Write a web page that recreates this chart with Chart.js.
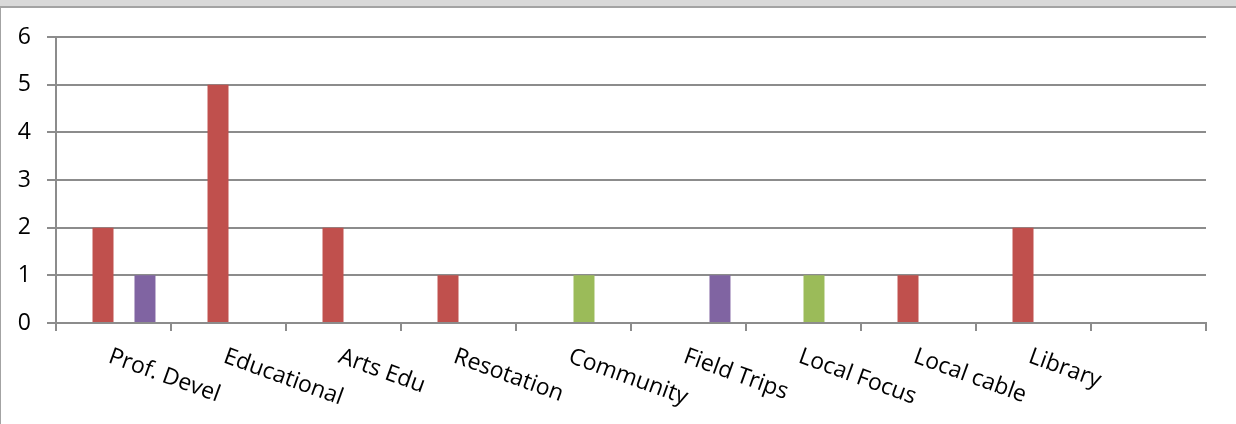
<!DOCTYPE html>
<html>
<head>
<meta charset="utf-8">
<script src="https://cdn.jsdelivr.net/npm/chart.js@4"></script>
<style>
  html, body { margin:0; padding:0; background:#fff; }
  #frame { position:absolute; left:0; top:0; width:1236px; height:424px; overflow:hidden; }
  #band { position:absolute; left:0; top:0; width:1236px; height:6px; background:#d9d9d9; border-bottom:2px solid #a3a3a3; }
  #edge { position:absolute; left:0; top:6px; width:1px; height:418px; background:#a3a3a3; }
  canvas { position:absolute; left:0; top:0; }
</style>
</head>
<body>
<div id="frame">
  <div id="band"></div>
  <div id="edge"></div>
  <canvas id="chart" width="1236" height="424"></canvas>
</div>
<script>
const categories = ['Prof. Devel','Educational','Arts Edu','Resotation','Community','Field Trips','Local Focus','Local cable','Library',''];
const blueVals   = [0,0,0,0,0,0,0,0,0,0];
const redVals    = [2,5,2,1,0,0,0,1,2,0];
const greenVals  = [0,0,0,0,1,0,1,0,0,0];
const purpleVals = [1,0,0,0,0,1,0,0,0,0];
const yTicks = [0,1,2,3,4,5,6];

const FONT = "'Open Sans', 'Liberation Sans', sans-serif";

// x labels are rotated clockwise in the original, Chart.js only does the other way
const slantLabels = {
  id: 'slantLabels',
  afterDraw(chart){
    const xs = chart.scales.x;
    const ctx = chart.ctx;
    ctx.save();
    ctx.font = '23px ' + FONT;
    ctx.fillStyle = '#000';
    ctx.textAlign = 'left';
    ctx.textBaseline = 'top';
    categories.forEach((c, i)=>{
      if(!c) return;
      const x = xs.getPixelForValue(i);
      const y = xs.top + 22;
      ctx.save();
      ctx.translate(x, y);
      ctx.rotate(20 * Math.PI/180);
      ctx.fillText(c, 0, 0);
      ctx.restore();
    });
    ctx.restore();
  }
};

const ds = (vals, color) => ({ data: vals, backgroundColor: color, borderWidth: 0 });

new Chart(document.getElementById('chart'), {
  type: 'bar',
  data: {
    labels: categories,
    datasets: [
      ds(blueVals, '#4F81BD'),
      ds(redVals, '#C0504D'),
      ds(greenVals, '#9BBB59'),
      ds(purpleVals, '#8064A2')
    ]
  },
  options: {
    responsive: false,
    animation: false,
    events: [],
    categoryPercentage: 0.73,
    barPercentage: 1,
    layout: { padding: { top: 37, right: 30, left: 0, bottom: 0 } },
    plugins: { legend: { display:false }, tooltip: { enabled:false } },
    scales: {
      x: {
        grid: { offset: true, drawOnChartArea: false, color: '#8c8c8c', lineWidth: 2, tickLength: 8 },
        border: { color: '#8c8c8c', width: 2 },
        ticks: { display: false },
        afterFit(s){ s.height = 101; }
      },
      y: {
        min: 0, max: 6,
        afterBuildTicks(s){ s.ticks = yTicks.map(v => ({ value: v })); },
        grid: { color: '#8c8c8c', lineWidth: 2, tickLength: 9 },
        border: { color: '#8c8c8c', width: 2 },
        ticks: { color: '#000', font: { family: FONT, size: 23 }, padding: 16 },
        afterFit(s){ s.width = 56; }
      }
    }
  },
  plugins: [slantLabels]
});
</script>
</body>
</html>
